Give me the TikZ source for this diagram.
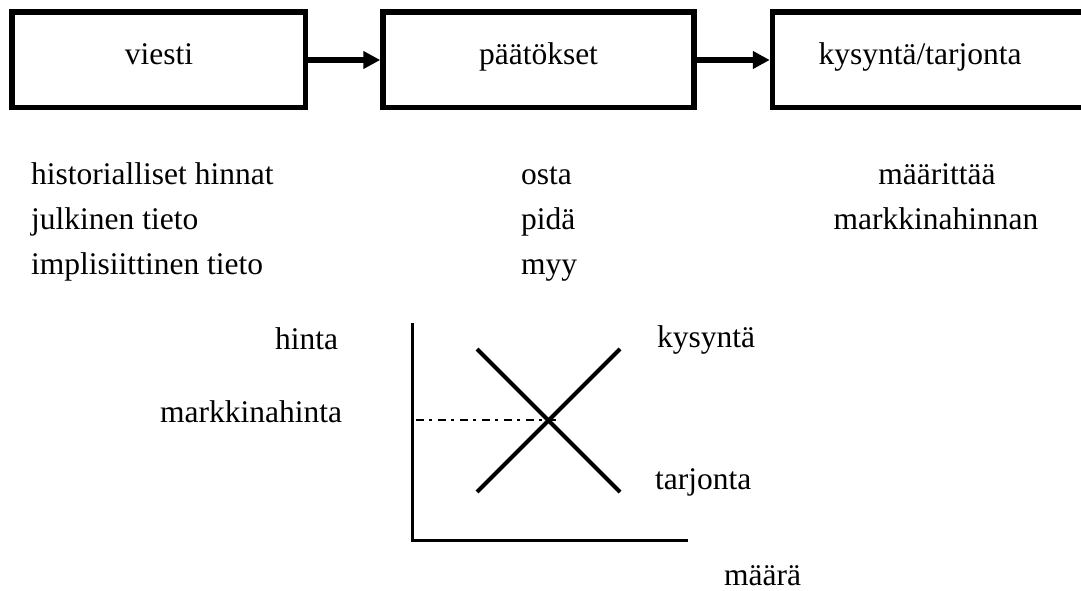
\documentclass[tikz,border=0pt]{standalone}
\usepackage{fontspec}
\setmainfont{Liberation Serif}
\usetikzlibrary{arrows.meta}
\begin{document}
\begin{tikzpicture}[x=1pt,y=-1pt,
  every node/.style={font=\fontsize{31.5}{36}\selectfont},
  flowbox/.style={draw,line width=5.5pt,inner sep=0pt,minimum height=95.5pt},
  flowarrow/.style={line width=6pt,-{Triangle[length=17pt,width=17pt]},shorten >=0pt},
  txt/.style={inner sep=0pt,anchor=base west},
  ctxt/.style={inner sep=0pt,anchor=base},
  axisline/.style={line width=3pt},
  curve/.style={line width=4pt},
  guide/.style={line width=1.5pt,dash pattern=on 8pt off 5pt on 3pt off 6pt}]
\useasboundingbox (0,0) rectangle (1081,591);
\clip (0,0) rectangle (1081,591);

% process chain
\node[flowbox,minimum width=293.5pt] (b1) at (158.75,60) {};
\node[flowbox,minimum width=311pt] (b2) at (538.5,60) {};
\node[flowbox,minimum width=327.5pt] (b3) at (936.25,60) {};
\node[ctxt] (t1) at (159,65) {viesti};
\node[ctxt] (t2) at (538.5,65) {päätökset};
\node[ctxt] (t3) at (920,65) {kysyntä/tarjonta};
\draw[flowarrow] (b1.east) -- (b2.west);
\draw[flowarrow] (b2.east) -- (b3.west);

% lists under the boxes
\node[txt] (l1) at (31,184) {historialliset hinnat};
\node[txt] (l2) at (31,229) {julkinen tieto};
\node[txt] (l3) at (31,274) {implisiittinen tieto};
\node[txt] (m1) at (521,184) {osta};
\node[txt] (m2) at (521,229) {pidä};
\node[txt] (m3) at (521,274) {myy};
\node[ctxt] (r1) at (937,184) {määrittää};
\node[ctxt] (r2) at (936,229) {markkinahinnan};

% supply and demand diagram
\coordinate (ytop) at (412,323);
\coordinate (origin) at (412,540);
\coordinate (xend) at (688,540);
\draw[axisline] (ytop) -- (origin) -- (xend);
\coordinate (d1) at (477,349);
\coordinate (d2) at (620,492);
\coordinate (s1) at (477,492);
\coordinate (s2) at (620,349);
\draw[curve] (d1) -- (d2);
\draw[curve] (s1) -- (s2);
\coordinate (g1) at (416,420);
\coordinate (g2) at (557,420);
\draw[guide] (g1) -- (g2);

\node[txt] (hinta) at (275,349) {hinta};
\node[txt] (mh) at (160,422) {markkinahinta};
\node[txt] (kys) at (657,347) {kysyntä};
\node[txt] (tar) at (655,489) {tarjonta};
\node[txt] (maara) at (724,585) {määrä};
\end{tikzpicture}
\end{document}
